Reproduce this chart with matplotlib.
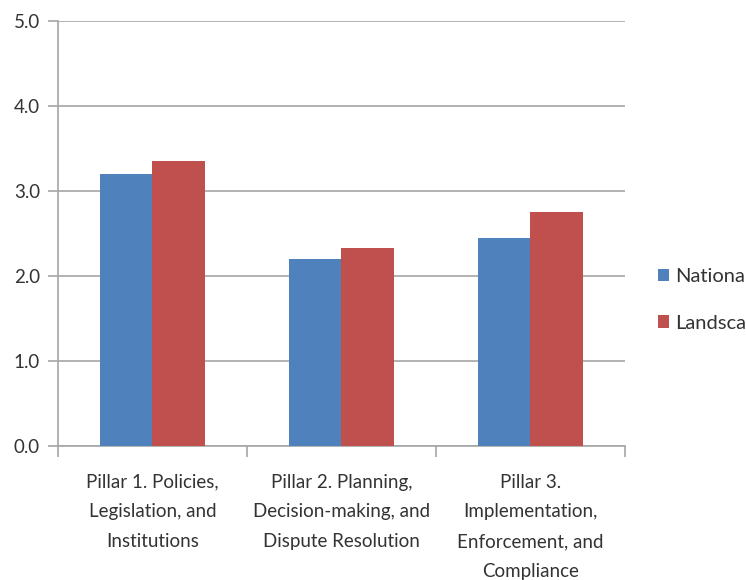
import numpy as np
import matplotlib
matplotlib.use("Agg")
import matplotlib.pyplot as plt

# data
categories = ["Pillar 1. Policies,\nLegislation, and\nInstitutions",
              "Pillar 2. Planning,\nDecision-making, and\nDispute Resolution",
              "Pillar 3.\nImplementation,\nEnforcement, and\nCompliance"]
national = [3.2, 2.2, 2.45]
landscape = [3.35, 2.33, 2.75]
series_names = ["National", "Landscape"]

plt.rcParams['font.family'] = ['Lato', 'DejaVu Sans']
txt = '#333333'
grid_c = '#a6a6a6'
fs = 13.5

fig = plt.figure(figsize=(7.46, 5.8), dpi=100)
ax = fig.add_axes([0.0777, 0.231, 0.760, 0.7328])

x = np.arange(len(categories))
w = 0.28
ax.bar(x - w / 2, national, w, color='#4f81bd', label=series_names[0], zorder=3)
ax.bar(x + w / 2, landscape, w, color='#c0504d', label=series_names[1], zorder=3)

ax.set_xlim(-0.5, 2.5)
ax.set_ylim(0, 5)
ax.set_yticks(np.arange(0, 5.01, 1.0))
ax.set_yticklabels([f"{v:.1f}" for v in np.arange(0, 5.01, 1.0)])
ax.yaxis.grid(True, color=grid_c, lw=1.2, zorder=0)

ax.set_xticks([-0.5, 0.5, 1.5, 2.5])
ax.set_xticklabels([])
ax.set_xticks(x, minor=True)
ax.set_xticklabels(categories, minor=True, fontsize=fs, color=txt, linespacing=1.9)
ax.tick_params(axis='x', which='major', length=8, color=grid_c, width=1.2)
ax.tick_params(axis='x', which='minor', length=0, pad=20)
ax.tick_params(axis='y', length=7, color=grid_c, width=1.2, labelsize=fs,
               labelcolor=txt, pad=6)

for s in ['top', 'right']:
    ax.spines[s].set_visible(False)
for s in ['left', 'bottom']:
    ax.spines[s].set_color(grid_c)
    ax.spines[s].set_linewidth(1.2)

# legend runs past the right edge, as in the reference
fig.legend(loc='center left', bbox_to_anchor=(658 / 746, 1 - 300 / 580),
           frameon=False, fontsize=14.5, labelcolor=txt, handlelength=0.55,
           handleheight=0.55, handletextpad=0.3, labelspacing=1.45,
           borderaxespad=0, borderpad=0)

fig.savefig("out.png", dpi=100)
